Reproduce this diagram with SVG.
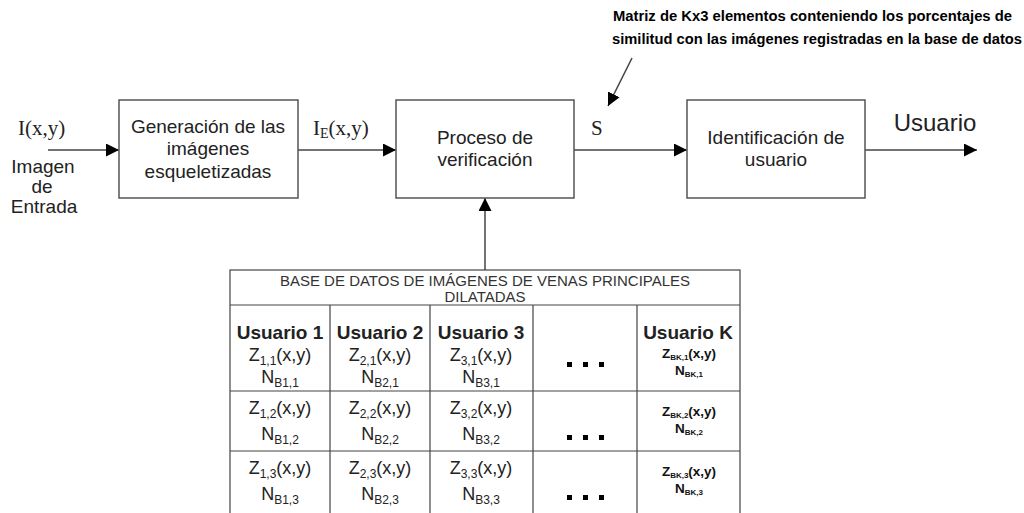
<svg xmlns="http://www.w3.org/2000/svg" width="1024" height="513" viewBox="0 0 1024 513">
<style>
.box{fill:#fff;stroke:#555;stroke-width:1.5}
.ln{stroke:#444;stroke-width:1.5;fill:none}
.t{font-family:"Liberation Sans",Arial,sans-serif;font-size:19px;fill:#222;text-anchor:middle}
.s{font-family:"Liberation Serif","Times New Roman",serif;font-size:21px;fill:#222}
.h{font-family:"Liberation Sans",Arial,sans-serif;font-size:15px;fill:#333;text-anchor:middle}
.c{font-family:"Liberation Sans",Arial,sans-serif;font-size:18px;fill:#222;text-anchor:middle}
.b{font-family:"Liberation Sans",Arial,sans-serif;font-size:19px;font-weight:bold;fill:#222;text-anchor:middle}
.k{font-family:"Liberation Sans",Arial,sans-serif;font-size:13.5px;font-weight:bold;fill:#111;text-anchor:middle}
.a{font-family:"Liberation Sans",Arial,sans-serif;font-size:14px;font-weight:bold;fill:#000}
.tb{stroke:#444;stroke-width:1.2;fill:none}
</style>
<defs>
<marker id="ah2" viewBox="0 0 10 10" refX="10" refY="5" markerWidth="13" markerHeight="13" markerUnits="userSpaceOnUse" orient="auto">
<path d="M0,0 L10,5 L0,10 Z" fill="#000"/>
</marker>
</defs>

<g id="connectors">
<line class="ln" x1="48" y1="150" x2="119" y2="150" marker-end="url(#ah2)"/>
<line class="ln" x1="298" y1="150" x2="396" y2="150" marker-end="url(#ah2)"/>
<line class="ln" x1="574" y1="150" x2="687" y2="150" marker-end="url(#ah2)"/>
<line class="ln" x1="865" y1="150" x2="977" y2="150" marker-end="url(#ah2)"/>
<line class="ln" x1="485" y1="270" x2="485" y2="198" marker-end="url(#ah2)"/>
<line class="ln" x1="632" y1="58" x2="608" y2="106" marker-end="url(#ah2)"/>
</g>

<g id="annotation">
<text class="a" x="613" y="21" textLength="399" lengthAdjust="spacingAndGlyphs">Matriz de Kx3 elementos conteniendo los porcentajes de</text>
<text class="a" x="612" y="44" textLength="410" lengthAdjust="spacingAndGlyphs">similitud con las imágenes registradas en la base de datos</text>
</g>

<g id="input">
<text class="s" x="18" y="135">I(x,y)</text>
<text class="t" x="43" y="173">Imagen</text>
<text class="t" x="42" y="193">de</text>
<text class="t" x="44" y="213">Entrada</text>
</g>

<g id="node-generacion">
<rect class="box" x="119" y="100" width="179" height="98"/>
<text class="t" x="208" y="133">Generación de las</text>
<text class="t" x="208" y="155">imágenes</text>
<text class="t" x="208" y="178">esqueletizadas</text>
</g>

<text class="s" x="313" y="135">I<tspan font-size="14" dy="3">E</tspan><tspan dy="-3">(x,y)</tspan></text>

<g id="node-proceso">
<rect class="box" x="396" y="100" width="178" height="98"/>
<text class="t" x="485" y="144">Proceso de</text>
<text class="t" x="485" y="166">verificación</text>
</g>

<text class="s" x="591" y="135">S</text>

<g id="node-identificacion">
<rect class="box" x="687" y="100" width="178" height="98"/>
<text class="t" x="776" y="144">Identificación de</text>
<text class="t" x="776" y="166">usuario</text>
</g>

<text class="t" x="935" y="131" style="font-size:24px">Usuario</text>

<g id="node-basedatos">
<rect class="tb" x="230" y="270" width="510" height="250" fill="#fff"/>
<line class="tb" x1="230" y1="305" x2="740" y2="305"/>
<line class="tb" x1="230" y1="391" x2="740" y2="391"/>
<line class="tb" x1="230" y1="451" x2="740" y2="451"/>
<line class="tb" x1="330" y1="305" x2="330" y2="513"/>
<line class="tb" x1="430" y1="305" x2="430" y2="513"/>
<line class="tb" x1="533" y1="305" x2="533" y2="513"/>
<line class="tb" x1="637" y1="305" x2="637" y2="513"/>
<text class="h" x="485" y="286">BASE DE DATOS DE IMÁGENES DE VENAS PRINCIPALES</text>
<text class="h" x="485" y="302">DILATADAS</text>

<text class="b" x="280" y="339">Usuario 1</text>
<text class="b" x="380" y="339">Usuario 2</text>
<text class="b" x="481" y="339">Usuario 3</text>
<text class="b" x="688" y="339">Usuario K</text>

<text class="c" x="280" y="361">Z<tspan font-size="12" dy="4">1,1</tspan><tspan dy="-4">(x,y)</tspan></text>
<text class="c" x="280" y="383">N<tspan font-size="12" dy="4">B1,1</tspan></text>
<text class="c" x="380" y="361">Z<tspan font-size="12" dy="4">2,1</tspan><tspan dy="-4">(x,y)</tspan></text>
<text class="c" x="380" y="383">N<tspan font-size="12" dy="4">B2,1</tspan></text>
<text class="c" x="481" y="361">Z<tspan font-size="12" dy="4">3,1</tspan><tspan dy="-4">(x,y)</tspan></text>
<text class="c" x="481" y="383">N<tspan font-size="12" dy="4">B3,1</tspan></text>

<text class="c" x="280" y="414">Z<tspan font-size="12" dy="4">1,2</tspan><tspan dy="-4">(x,y)</tspan></text>
<text class="c" x="280" y="440">N<tspan font-size="12" dy="4">B1,2</tspan></text>
<text class="c" x="380" y="414">Z<tspan font-size="12" dy="4">2,2</tspan><tspan dy="-4">(x,y)</tspan></text>
<text class="c" x="380" y="440">N<tspan font-size="12" dy="4">B2,2</tspan></text>
<text class="c" x="481" y="414">Z<tspan font-size="12" dy="4">3,2</tspan><tspan dy="-4">(x,y)</tspan></text>
<text class="c" x="481" y="440">N<tspan font-size="12" dy="4">B3,2</tspan></text>

<text class="c" x="280" y="474">Z<tspan font-size="12" dy="4">1,3</tspan><tspan dy="-4">(x,y)</tspan></text>
<text class="c" x="280" y="500">N<tspan font-size="12" dy="4">B1,3</tspan></text>
<text class="c" x="380" y="474">Z<tspan font-size="12" dy="4">2,3</tspan><tspan dy="-4">(x,y)</tspan></text>
<text class="c" x="380" y="500">N<tspan font-size="12" dy="4">B2,3</tspan></text>
<text class="c" x="481" y="474">Z<tspan font-size="12" dy="4">3,3</tspan><tspan dy="-4">(x,y)</tspan></text>
<text class="c" x="481" y="500">N<tspan font-size="12" dy="4">B3,3</tspan></text>

<g fill="#000">
<rect x="567" y="362" width="5" height="5"/><rect x="583" y="362" width="5" height="5"/><rect x="599" y="362" width="5" height="5"/>
<rect x="567" y="435" width="5" height="5"/><rect x="583" y="435" width="5" height="5"/><rect x="599" y="435" width="5" height="5"/>
<rect x="567" y="495" width="5" height="5"/><rect x="583" y="495" width="5" height="5"/><rect x="599" y="495" width="5" height="5"/>
</g>

<text class="k" x="689" y="358">Z<tspan font-size="8" dy="2">BK,1</tspan><tspan dy="-2">(x,y)</tspan></text>
<text class="k" x="689" y="375">N<tspan font-size="8" dy="2">BK,1</tspan></text>
<text class="k" x="689" y="416">Z<tspan font-size="8" dy="2">BK,2</tspan><tspan dy="-2">(x,y)</tspan></text>
<text class="k" x="689" y="433">N<tspan font-size="8" dy="2">BK,2</tspan></text>
<text class="k" x="689" y="476">Z<tspan font-size="8" dy="2">BK,3</tspan><tspan dy="-2">(x,y)</tspan></text>
<text class="k" x="689" y="493">N<tspan font-size="8" dy="2">BK,3</tspan></text>
</g>
</svg>
